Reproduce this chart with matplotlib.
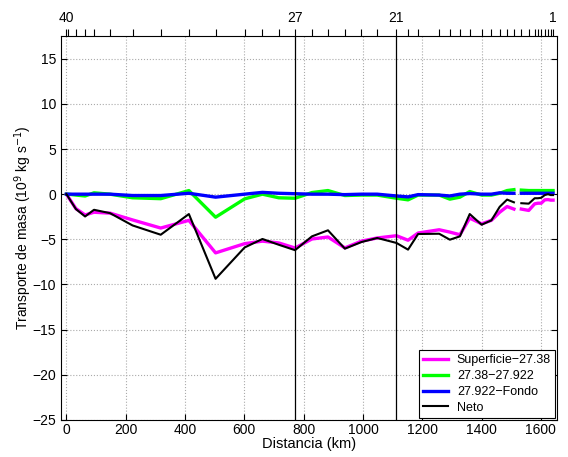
import numpy as np
import matplotlib
matplotlib.use("Agg")
import matplotlib.pyplot as plt

plt.rcParams['font.family'] = ['Liberation Sans', 'DejaVu Sans']
plt.rcParams['font.size'] = 10

# Station numbers and distance (km)
stations = [40, 39, 38, 37, 36, 35, 34, 33, 32, 31, 30, 29, 28, 27, 26, 25, 24, 23, 22, 21,
            20, 19, 18, 17, 16, 15, 14, 13, 12, 11, 10, 9, 8, 7, 6, 5, 4, 3, 2, 1]
dist_km = [0, 5, 32, 63, 93, 147, 223, 318, 413, 503, 601, 661, 716, 771, 828, 882, 939, 995, 1048, 1113,
           1152, 1186, 1257, 1293, 1327, 1360, 1400, 1433, 1461, 1486, 1509, 1534, 1559, 1579, 1590, 1601, 1613, 1624, 1633, 1641]
labeled_stations = [40, 27, 21, 1]
marked_stations = [27, 21]

nan = np.nan
superficie = [0, -0.25, -1.6, -2.3, -2.0, -2.1, -2.85, -3.75, -2.9, -6.5, -5.48, -5.2, -5.4, -5.96, -4.96, -4.74, -5.95, -5.2, -4.85, -4.6,
               -5.1, -4.3, -3.94, -4.2, -4.49, -2.65, -3.28, -2.9, -2.0, -1.37, -1.65, -1.65, -1.8, -1.07, -1.0, -1.0, -0.63, -0.6, -0.66, -0.66]
intermedia = [0, 0, -0.1, -0.2, 0.15, 0.0, -0.4, -0.5, 0.4, -2.55, -0.52, 0.0, -0.4, -0.45, 0.18, 0.4, -0.15, -0.1, -0.1, -0.45,
              -0.63, -0.1, -0.1, -0.55, -0.33, 0.29, -0.1, -0.1, 0.1, 0.4, 0.5, 0.45, 0.4, 0.4, 0.4, 0.4, 0.4, 0.4, 0.4, 0.4]
fondo = [0, 0, 0, 0, 0, 0, -0.15, -0.15, 0.1, -0.33, 0.0, 0.2, 0.1, 0.05, 0.0, 0.0, -0.05, 0, 0, -0.2,
         -0.3, -0.05, -0.1, -0.2, 0, 0.07, 0, 0, 0.15, 0.1, 0.1, 0.1, 0.1, 0.1, 0.1, 0.1, 0.1, 0.1, 0.1, 0.1]
neto = [0, -0.25, -1.65, -2.47, -1.73, -2.1, -3.46, -4.49, -2.2, -9.37, -5.9, -4.96, -5.6, -6.2, -4.67, -4.0, -6.03, -5.3, -4.85, -5.4,
        -6.14, -4.41, -4.38, -5.04, -4.67, -2.2, -3.38, -2.9, -1.4, -0.6, -0.9, -1.0, -1.05, -0.45, -0.45, -0.4, -0.1, 0.0, -0.1, -0.1]
gap_after_station = 10  # no data between stations 10 and 9

labels = ['Superficie\u221227.38', '27.38\u221227.922', '27.922\u2212Fondo', 'Neto']

def with_gap(vals):
    x = list(dist_km)
    v = list(vals)
    i = stations.index(gap_after_station) + 1
    x.insert(i, nan)
    v.insert(i, nan)
    return x, v

fig = plt.figure(figsize=(5.68, 4.57), dpi=100)
ax = fig.add_axes([0.107, 0.081, 0.874, 0.840])

series = [(superficie, '#ff00ff', 2.4), (intermedia, '#00ff00', 2.4), (fondo, '#0000ff', 2.4), (neto, 'black', 1.5)]
for (vals, c, lw), lab in zip(series, labels):
    x, v = with_gap(vals)
    ax.plot(x, v, color=c, lw=lw, label=lab)

for s in marked_stations:
    ax.axvline(dist_km[stations.index(s)], color='black', lw=0.9)

ax.set_xlim(-19, 1655)
ax.set_ylim(-25, 17.5)
ax.set_xticks(np.arange(0, 1601, 200))
ax.set_yticks(np.arange(-25, 16, 5))
ax.set_yticklabels([f'{int(t)}'.replace('-', '\u2212') for t in np.arange(-25, 16, 5)])
ax.grid(True, linestyle=':', color='#aaaaaa', lw=0.8)
ax.tick_params(direction='in', top=True, right=True, length=4, width=0.8, labelsize=10)
ax.tick_params(axis='x', pad=2)
ax.set_xlabel('Distancia (km)', fontsize=10.5, labelpad=0)
ax.set_ylabel('Transporte de masa (10$^9$ kg s$^{-1}$)', fontsize=10)
ax.yaxis.set_label_coords(-0.054, 0.5)
for sp in ax.spines.values():
    sp.set_linewidth(0.8)

leg = ax.legend(loc='lower right', fontsize=9, frameon=True, fancybox=False,
                edgecolor='black', framealpha=1, borderpad=0.35, labelspacing=0.3,
                handlelength=2.0, handletextpad=0.7, borderaxespad=0.15)
leg.get_frame().set_linewidth(0.8)

ax2 = ax.twiny()
ax2.set_xlim(ax.get_xlim())
ax2.set_xticks(dist_km)
ax2.set_xticklabels([str(s) if s in labeled_stations else '' for s in stations])
ax2.tick_params(direction='out', length=5, width=0.8, labelsize=10, pad=3)
for sp in ax2.spines.values():
    sp.set_visible(False)

fig.savefig('out.png', dpi=100)
